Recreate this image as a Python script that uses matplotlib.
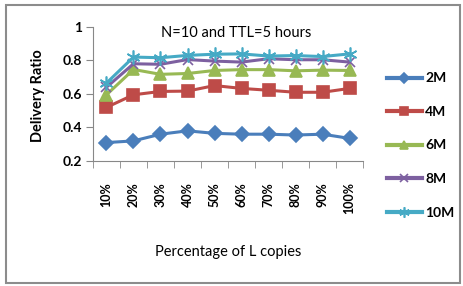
import matplotlib
matplotlib.use("Agg")
import matplotlib.pyplot as plt
from matplotlib.patches import Rectangle
import numpy as np

plt.rcParams['font.family'] = ['Lato', 'DejaVu Sans']

categories = ["10%", "20%", "30%", "40%", "50%", "60%", "70%", "80%", "90%", "100%"]
ratio_2m = [0.31, 0.32, 0.36, 0.38, 0.365, 0.36, 0.36, 0.355, 0.36, 0.335]
ratio_4m = [0.52, 0.595, 0.615, 0.617, 0.65, 0.633, 0.622, 0.61, 0.61, 0.633]
ratio_6m = [0.595, 0.746, 0.717, 0.722, 0.74, 0.745, 0.745, 0.738, 0.742, 0.74]
ratio_8m = [0.64, 0.78, 0.777, 0.805, 0.796, 0.79, 0.81, 0.804, 0.804, 0.79]
ratio_10m = [0.665, 0.82, 0.816, 0.83, 0.837, 0.839, 0.826, 0.829, 0.823, 0.839]

series = [
    ("2M", ratio_2m, "#4A7EBB", "D", 7),
    ("4M", ratio_4m, "#BE4B48", "s", 8),
    ("6M", ratio_6m, "#98B954", "^", 8),
    ("8M", ratio_8m, "#7D60A0", "x", 7),
    ("10M", ratio_10m, "#46AAC5", (6, 2, 0), 10),
]

fig = plt.figure(figsize=(4.64, 2.86), dpi=100)
ax = fig.add_axes([0.2004, 0.437, 0.582, 0.469])

x = np.arange(len(categories))
for name, vals, col, mk, ms in series:
    ax.plot(x, vals, color=col, lw=2.2, marker=mk, markersize=ms,
            markeredgecolor=col, markerfacecolor=col, markeredgewidth=1.2,
            label=name)

ax.set_xlim(-0.5, len(categories) - 0.5)
ax.set_ylim(0.2, 1.0)
ax.set_yticks([0.2, 0.4, 0.6, 0.8, 1.0])
ax.set_yticklabels(["0.2", "0.4", "0.6", "0.8", "1"], fontsize=10, fontweight='bold')
ax.set_xticks(x)
ax.set_xticklabels(categories, rotation=90, fontsize=9, fontweight='bold')
ax.tick_params(axis='x', length=0, pad=15)
ax.set_xticks(np.arange(-0.5, len(categories)), minor=True)
ax.tick_params(axis='x', which='minor', length=5, color='#888888')
ax.tick_params(axis='y', length=5, color='#888888', pad=3)

for s in ['top', 'right']:
    ax.spines[s].set_visible(False)
for s in ['left', 'bottom']:
    ax.spines[s].set_color('#888888')

ax.set_ylabel("Delivery Ratio", fontsize=10.5, fontweight='bold', va='center')
ax.yaxis.set_label_coords(-0.204, 0.49)
ax.set_xlabel("Percentage of L copies", fontsize=10.5, va='center')
ax.xaxis.set_label_coords(0.5, -0.679)
fig.text(236 / 464, 1 - 33 / 286, "N=10 and TTL=5 hours", fontsize=10.5,
         ha='center', va='center')

leg = ax.legend(loc='center left', bbox_to_anchor=(1.089, 0.116), frameon=False,
                prop={'weight': 'bold', 'size': 10}, handlelength=2.5,
                labelspacing=1.55, handletextpad=0.25, borderpad=0,
                borderaxespad=0, markerscale=0.75)
for h in leg.get_lines():
    h.set_linewidth(3)

fig.patches.append(Rectangle((6 / 464, 3 / 286), 454 / 464, 278 / 286,
                             transform=fig.transFigure, fill=False,
                             edgecolor='#8c8c8c', lw=1.5))

fig.savefig("out.png", dpi=100)
